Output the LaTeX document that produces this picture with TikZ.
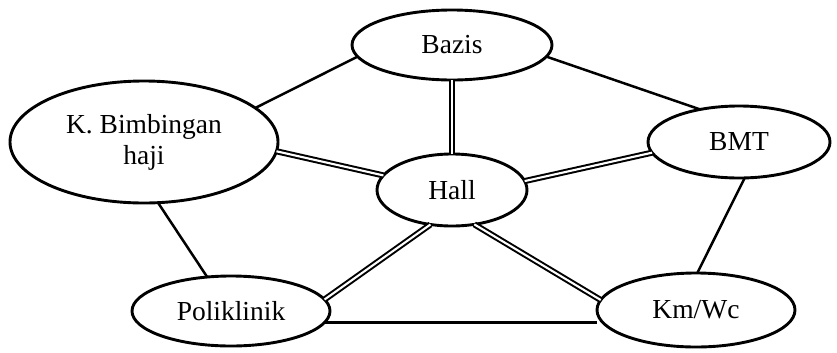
\documentclass[tikz,border=0pt]{standalone}
\usepackage{fontspec}
\setmainfont{Liberation Serif}
\usetikzlibrary{shapes.geometric}
\begin{document}
\begin{tikzpicture}[x=1bp,y=-1bp,
  room/.style={ellipse,draw,line width=2.9bp,inner sep=0pt,outer sep=0pt,
    align=center,font=\fontsize{27.5bp}{31bp}\selectfont},
  link/.style={line width=2.5bp},
  mainlink/.style={line width=2bp,double=white,double distance=2.1bp}]
\useasboundingbox (0,0) rectangle (837,352);
% rooms
\node[room,minimum width=200bp,minimum height=70bp] (bazis) at (452,45) {Bazis};
\node[room,minimum width=268bp,minimum height=122bp] (kbh) at (144,142) {K. Bimbingan\\haji};
\node[room,minimum width=182bp,minimum height=72bp] (bmt) at (739,142) {BMT};
\node[room,minimum width=150bp,minimum height=72bp] (hall) at (452,190) {Hall};
\node[room,minimum width=198bp,minimum height=70bp] (poli) at (231,311) {Poliklinik};
\node[room,minimum width=198bp,minimum height=74bp] (kmwc) at (696,310) {Km/Wc};
% outer ring
\draw[link] (bazis.187) -- (kbh.17.5);
\draw[link] (bazis.353) -- (bmt.140);
\draw[link] (kbh.283) -- (poli.125);
\draw[link] (bmt.279) -- (kmwc.88);
\draw[link] (poli.-7.2) -- (poli.-7.2 -| kmwc.west);
% links to the hall
\draw[mainlink] (bazis.south) -- (hall.north);
\draw[mainlink] (kbh.-4) -- (hall.168);
\draw[mainlink] (hall.7.6) -- (bmt.187.5);
\draw[mainlink] (hall.238) -- (poli.7.5);
\draw[mainlink] (hall.303) -- (kmwc.174);
\end{tikzpicture}
\end{document}
